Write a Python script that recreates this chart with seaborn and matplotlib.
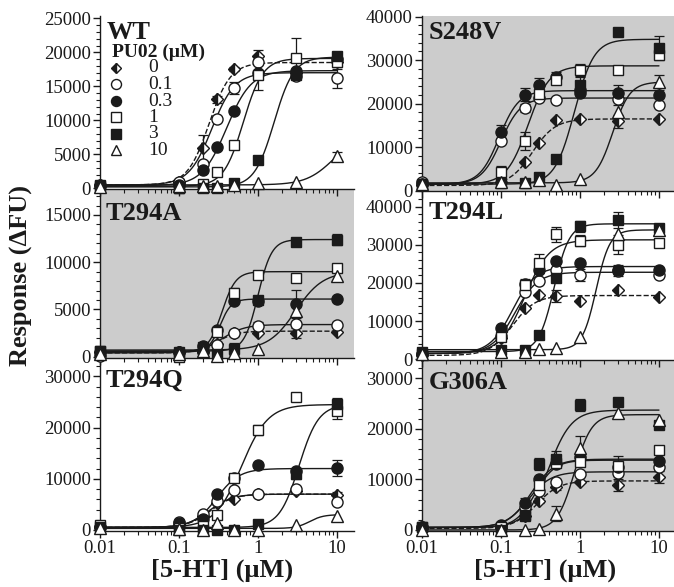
import numpy as np
import matplotlib
matplotlib.use("Agg")
import matplotlib.pyplot as plt
import seaborn as sns
from matplotlib.ticker import MultipleLocator, LogLocator, NullFormatter, FixedLocator

# ---------------- data ----------------
X = [0.01, 0.1, 0.2, 0.3, 0.5, 1, 3, 10]          # [5-HT] (uM)
PU02 = ["0", "0.1", "0.3", "1", "3", "10"]          # PU02 (uM)

# Responses (dFU), one list per PU02 concentration
wt_resp = [
    [500, 1000, 5900, 13100, 17500, 19400, 17000, 18600],
    [500, 1000, 3600, 10200, 14800, 18600, 16500, 16200],
    [400, 500, 2700, 6100, 11400, 17000, 17300, 19000],
    [500, 100, 700, 2400, 6400, 16700, 19100, 18600],
    [300, 0, 100, 100, 800, 4100, 16600, 19400],
    [200, 300, 300, 300, 500, 800, 1000, 4700],
]
wt_err = [
    [0, 300, 1900, 500, 300, 900, 0, 600],
    [0, 0, 0, 0, 900, 0, 0, 1400],
    [0, 0, 0, 0, 0, 0, 0, 700],
    [0, 0, 0, 0, 0, 2300, 3000, 700],
    [0, 0, 0, 0, 0, 500, 0, 600],
    [0, 0, 0, 0, 0, 0, 0, 700],
]
wt_fit = [  # bottom, top, EC50, Hill
    (500, 18500, 0.24, 3.2), (500, 17000, 0.26, 3.0), (400, 17300, 0.40, 2.8),
    (300, 19100, 0.65, 3.5), (200, 19300, 1.6, 3.5), (500, 8000, 9.0, 2.5),
]

s248v_resp = [
    [1200, 2000, 6500, 11000, 16300, 16500, 16000, 16500],
    [2000, 11500, 19000, 21200, 20800, 23100, 21000, 19700],
    [1500, 13600, 22100, 24400, 26200, 22500, 22500, 22000],
    [1500, 4200, 11400, 22300, 25500, 27700, 27800, 31100],
    [1200, 1700, 1800, 3200, 7200, 24400, 36500, 32800],
    [1500, 2000, 2000, 2500, 1300, 2800, 18200, 24900],
]
s248v_err = [
    [0, 0, 0, 0, 0, 0, 1500, 0],
    [0, 0, 1000, 0, 0, 0, 0, 0],
    [0, 1500, 1500, 1500, 1000, 0, 1800, 0],
    [0, 1500, 2000, 0, 0, 1500, 0, 0],
    [0, 0, 0, 0, 0, 2000, 0, 2700],
    [0, 0, 0, 0, 0, 0, 1500, 1800],
]
s248v_fit = [
    (1200, 16500, 0.25, 3.0), (1500, 21300, 0.10, 3.5), (1500, 23000, 0.095, 3.5),
    (1500, 28700, 0.22, 3.2), (1500, 34800, 0.85, 3.5), (1800, 25000, 2.6, 4.0),
]

t294a_resp = [
    [500, 500, 500, 1300, 2500, 2500, 2500, 2600],
    [100, 500, 500, 1200, 2500, 3200, 3500, 3400],
    [500, 500, 1100, 2800, 5900, 5900, 5600, 6100],
    [600, 0, 800, 2600, 6700, 8600, 8300, 9400],
    [600, 500, 1000, 300, 800, 6000, 12100, 12400],
    [300, 300, 600, 100, 350, 800, 4800, 8500],
]
t294a_err = [
    [0, 0, 0, 0, 0, 0, 500, 0],
    [0, 0, 0, 0, 300, 500, 0, 300],
    [0, 0, 0, 0, 0, 0, 1500, 0],
    [0, 0, 0, 0, 600, 400, 0, 0],
    [0, 0, 0, 300, 600, 0, 0, 600],
    [0, 0, 0, 0, 0, 0, 0, 0],
]
t294a_fit = [
    (400, 2700, 0.30, 3.5), (400, 3400, 0.35, 3.0), (500, 6100, 0.33, 6.0),
    (500, 9000, 0.35, 5.0), (600, 12400, 1.0, 5.0), (700, 9000, 3.0, 2.5),
]

t294l_resp = [
    [1000, 5500, 13400, 16900, 16600, 15300, 18200, 16400],
    [1500, 6100, 17700, 20500, 23400, 22100, 23200, 22100],
    [1500, 8100, 19700, 23400, 25800, 25300, 23500, 23400],
    [1500, 5900, 19500, 25200, 32700, 31100, 30000, 30600],
    [2000, 2400, 2400, 6400, 21200, 34800, 36500, 34300],
    [1500, 2000, 2000, 2600, 2900, 5900, 32800, 33900],
]
t294l_err = [
    [0, 0, 0, 0, 1500, 0, 0, 0],
    [0, 0, 0, 0, 0, 1500, 1500, 0],
    [0, 0, 0, 0, 0, 0, 0, 0],
    [0, 0, 1500, 2500, 2000, 1500, 2500, 0],
    [0, 0, 0, 0, 0, 1500, 2000, 0],
    [0, 0, 0, 0, 0, 0, 0, 0],
]
t294l_fit = [
    (1000, 16700, 0.14, 3.0), (1500, 22800, 0.15, 3.0), (1500, 24300, 0.14, 3.0),
    (1500, 31300, 0.20, 2.8), (2000, 35500, 0.47, 4.5), (2500, 33900, 1.6, 5.0),
]

t294q_resp = [
    [500, 1000, 2800, 5300, 6000, 7000, 7700, 6800],
    [500, 1500, 3200, 5600, 7900, 7000, 8100, 5500],
    [500, 1300, 2100, 7000, 10100, 12600, 11500, 12100],
    [1000, 300, 700, 3000, 10100, 19500, 26000, 23200],
    [500, 0, 0, 0, 0, 1200, 10900, 24600],
    [300, 200, 0, 1300, 0, 0, 900, 2800],
]
t294q_err = [
    [0, 0, 0, 0, 0, 0, 0, 700],
    [0, 0, 0, 0, 0, 0, 0, 0],
    [0, 0, 0, 0, 0, 0, 0, 1500],
    [0, 0, 0, 0, 0, 1000, 500, 1500],
    [0, 0, 0, 0, 0, 0, 1000, 1200],
    [0, 0, 0, 0, 0, 0, 0, 0],
]
t294q_fit = [
    (500, 7000, 0.25, 3.0), (500, 7000, 0.24, 3.0), (500, 12000, 0.30, 3.0),
    (500, 24500, 0.62, 2.6), (500, 24500, 3.3, 3.5), (300, 3000, 4.5, 5.0),
]

g306a_resp = [
    [300, 300, 2700, 5800, 8400, 9500, 8900, 10400],
    [500, 800, 4600, 7800, 9500, 11000, 11200, 12400],
    [500, 1000, 5300, 10100, 13000, 14500, 12500, 13700],
    [500, 500, 2800, 8900, 13200, 13500, 12600, 15800],
    [500, 0, 3000, 13000, 14100, 24700, 25300, 20700],
    [0, 0, 0, 100, 3200, 16300, 23200, 21800],
]
g306a_err = [
    [0, 0, 0, 500, 500, 0, 1200, 1200],
    [0, 0, 0, 0, 0, 0, 0, 0],
    [0, 0, 1000, 0, 0, 0, 0, 0],
    [0, 0, 0, 0, 0, 0, 2000, 0],
    [0, 0, 0, 1200, 1500, 1200, 0, 0],
    [0, 0, 0, 0, 1500, 2300, 0, 0],
]
g306a_fit = [
    (300, 9700, 0.28, 3.0), (500, 11500, 0.22, 3.0), (500, 14000, 0.24, 3.0),
    (500, 13800, 0.27, 3.5), (500, 23700, 0.40, 3.0), (0, 22800, 0.85, 4.0),
]

PANELS = ["WT", "S248V", "T294A", "T294L", "T294Q", "G306A"]
YTICKS = {
    "WT": [0, 5000, 10000, 15000, 20000, 25000],
    "S248V": [0, 10000, 20000, 30000, 40000],
    "T294A": [0, 5000, 10000, 15000],
    "T294L": [0, 10000, 20000, 30000, 40000],
    "T294Q": [0, 10000, 20000, 30000],
    "G306A": [0, 10000, 20000, 30000],
}
XTICKS = [0.01, 0.1, 1, 10]
XTICKLABELS = ["0.01", "0.1", "1", "10"]

# ---------------- style ----------------
sns.set_theme(style="ticks")
plt.rcParams["font.family"] = ["Liberation Serif", "DejaVu Serif"]

GRAY = "#cccccc"
STYLE = [
    dict(marker="D", ms=6.0, mfc="k", mfcalt="w", fs="left", ls="--"),
    dict(marker="o", ms=8.0, mfc="w", mfcalt="w", fs="full", ls="-"),
    dict(marker="o", ms=8.0, mfc="k", mfcalt="k", fs="full", ls="-"),
    dict(marker="s", ms=7.5, mfc="w", mfcalt="w", fs="full", ls="-"),
    dict(marker="s", ms=7.5, mfc="k", mfcalt="k", fs="full", ls="-"),
    dict(marker="^", ms=8.0, mfc="w", mfcalt="w", fs="full", ls="-"),
]

W, H = 674, 587
fig = plt.figure(figsize=(W / 100, H / 100), dpi=100)

# pixel boxes (left, top, right, bottom), and settings
BOX = {
    "WT": (100, 16, 354, 189), "T294A": (100, 189, 354, 358), "T294Q": (100, 358, 354, 531),
    "S248V": (422, 16, 674, 191), "T294L": (422, 191, 674, 360), "G306A": (422, 360, 674, 531),
}
TITLE_POS = {"WT": (107, 21), "S248V": (429, 21), "T294A": (106, 202), "T294L": (429, 201),
             "T294Q": (106, 369), "G306A": (429, 371)}
YLIM = {"WT": (-100, 25340), "S248V": (-70, 40160), "T294A": (-140, 17750),
        "T294L": (-200, 44100), "T294Q": (-200, 33600), "G306A": (-200, 33600)}
YMINOR = {"WT": 1000, "S248V": 2000, "T294A": 1000, "T294L": 2000, "T294Q": 2000, "G306A": 2000}
XMAX = {"WT": 16.4, "T294A": 16.4, "T294Q": 16.4, "S248V": 15.5, "T294L": 15.5, "G306A": 15.5}
BG = {"WT": "white", "S248V": GRAY, "T294A": GRAY, "T294L": "white", "T294Q": "white", "G306A": GRAY}
DATA = {
    "WT": (wt_resp, wt_err, wt_fit), "S248V": (s248v_resp, s248v_err, s248v_fit),
    "T294A": (t294a_resp, t294a_err, t294a_fit), "T294L": (t294l_resp, t294l_err, t294l_fit),
    "T294Q": (t294q_resp, t294q_err, t294q_fit), "G306A": (g306a_resp, g306a_err, g306a_fit),
}
BOTTOM = {"T294Q", "G306A"}
ZORD = {"WT": 3, "S248V": 3, "T294A": 2, "T294L": 2, "T294Q": 1, "G306A": 1}

xs = np.logspace(-2, 1, 300)

def hill(x, b, t, ec, n):
    return b + (t - b) / (1.0 + (ec / x) ** n)

axes = {}
for name in ["T294Q", "G306A", "T294A", "T294L", "WT", "S248V"]:
    l, t, r, b = BOX[name]
    ax = fig.add_axes([l / W, 1 - b / H, (r - l) / W, (b - t) / H])
    ax.set_zorder(ZORD[name])
    axes[name] = ax
    ax.set_facecolor(BG[name])
    ax.set_xscale("log")
    ax.set_xlim(0.01, XMAX[name])
    ax.set_ylim(*YLIM[name])
    for s in ["top", "right"]:
        ax.spines[s].set_visible(False)
    for s in ["left", "bottom"]:
        ax.spines[s].set_linewidth(1.0)
        ax.spines[s].set_color("k")
    ax.grid(False)

    resp, err, fit = DATA[name]
    for i, st in enumerate(STYLE):
        b_, t_, ec, n = fit[i]
        sns.lineplot(x=xs, y=hill(xs, b_, t_, ec, n), ax=ax, color="k", lw=1.0,
                     linestyle=st["ls"], legend=False, zorder=2)
    for i, st in enumerate(STYLE):
        y = np.array(resp[i], float)
        e = np.array(err[i], float)
        m = e > 0
        if m.any():
            ax.errorbar(np.array(X)[m], y[m], yerr=e[m], fmt="none", ecolor="k",
                        elinewidth=0.9, capsize=3.5, capthick=0.9, zorder=3, clip_on=False)
        ax.plot(X, y, linestyle="none", marker=st["marker"], markersize=st["ms"],
                markerfacecolor=st["mfc"], markerfacecoloralt=st["mfcalt"],
                fillstyle=st["fs"], markeredgecolor="k", markeredgewidth=1.0,
                zorder=4, clip_on=False)

    ax.yaxis.set_major_locator(FixedLocator(YTICKS[name]))
    ax.yaxis.set_minor_locator(MultipleLocator(YMINOR[name]))
    ax.set_yticklabels([str(v) for v in YTICKS[name]], fontsize=13.5)
    ax.xaxis.set_major_locator(FixedLocator(XTICKS))
    ax.xaxis.set_minor_locator(LogLocator(base=10, subs=np.arange(2, 10) * 1.0, numticks=20))
    ax.xaxis.set_minor_formatter(NullFormatter())
    if name in BOTTOM:
        ax.set_xticklabels(XTICKLABELS, fontsize=13.5)
    else:
        ax.set_xticklabels([])
    ax.tick_params(axis="both", which="major", direction="out", length=5, width=1.0,
                   color="k", labelcolor="k", pad=1.5)
    ax.tick_params(axis="both", which="minor", direction="out", length=3, width=0.8, color="k")
    ax.set_xlabel("")
    ax.set_ylabel("")
    tx, ty = TITLE_POS[name]
    ax.text(tx / W, 1 - ty / H, name, transform=fig.transFigure, ha="left", va="top",
            fontsize=19, fontweight="bold", color="k", zorder=6)

# legend in WT panel (manual)
ax = axes["WT"]
l, t, r, b = BOX["WT"]
def fx(px):
    return (px - l) / (r - l)
def fy(py):
    return 1 - (py - t) / (b - t)
ax.text(fx(112), fy(52), "PU02 (μM)", transform=ax.transAxes, ha="left", va="center",
        fontsize=14, fontweight="bold", color="k")
rows = [68, 84.5, 101, 117.5, 134, 150.5]
for i, st in enumerate(STYLE):
    ax.plot([fx(116)], [fy(rows[i])], transform=ax.transAxes, linestyle="none",
            marker=st["marker"], markersize=st["ms"] * 0.9, markerfacecolor=st["mfc"],
            markerfacecoloralt=st["mfcalt"], fillstyle=st["fs"], markeredgecolor="k",
            markeredgewidth=1.0, clip_on=False, zorder=5)
    ax.text(fx(148), fy(rows[i]), PU02[i], transform=ax.transAxes, ha="left", va="center",
            fontsize=14, color="k")

fig.text(21 / W, 1 - 276 / H, "Response (ΔFU)", rotation=90, ha="center", va="center",
         fontsize=19, fontweight="bold", color="k")
fig.text(222 / W, 1 - 570 / H, "[5-HT] (μM)", ha="center", va="center",
         fontsize=19, fontweight="bold", color="k")
fig.text(545 / W, 1 - 570 / H, "[5-HT] (μM)", ha="center", va="center",
         fontsize=19, fontweight="bold", color="k")

fig.savefig("out.png", dpi=100, facecolor="white")
